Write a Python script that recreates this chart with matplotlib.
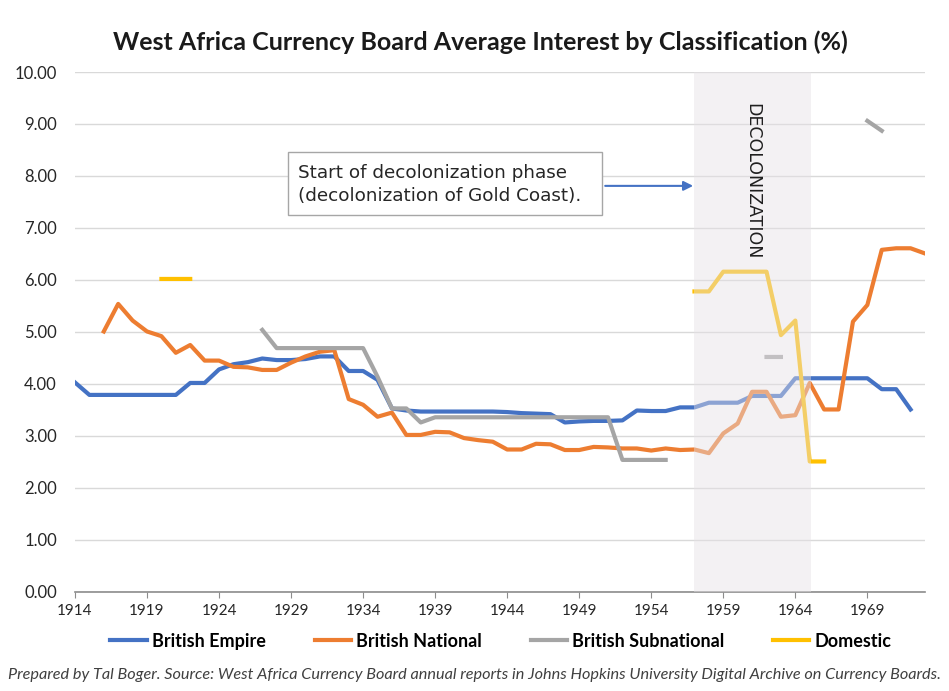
import numpy as np
import matplotlib
matplotlib.use("Agg")
import matplotlib.pyplot as plt
from matplotlib.patches import Rectangle

nan = np.nan

# yearly values 1914..1973
years = np.arange(1914, 1974)

british_empire = [
    4.03, 3.79, 3.79, 3.79, 3.79, 3.79, 3.79, 3.79, 4.02, 4.02,   # 1914-1923
    4.28, 4.38, 4.42, 4.49, 4.46, 4.46, 4.48, 4.53, 4.53, 4.25,   # 1924-1933
    4.25, 4.08, 3.53, 3.49, 3.47, 3.47, 3.47, 3.47, 3.47, 3.47,   # 1934-1943
    3.46, 3.44, 3.43, 3.42, 3.26, 3.28, 3.29, 3.29, 3.30, 3.49,   # 1944-1953
    3.48, 3.48, 3.55, 3.55, 3.64, 3.64, 3.64, 3.77, 3.77, 3.77,   # 1954-1963
    4.11, 4.11, 4.11, 4.11, 4.11, 4.11, 3.90, 3.90, 3.51, nan,    # 1964-1973
]

british_national = [
    nan, nan, 5.01, 5.54, 5.22, 5.01, 4.92, 4.60, 4.75, 4.45,
    4.45, 4.33, 4.32, 4.27, 4.27, 4.41, 4.53, 4.62, 4.65, 3.71,
    3.60, 3.37, 3.45, 3.02, 3.02, 3.08, 3.07, 2.96, 2.92, 2.89,
    2.74, 2.74, 2.85, 2.84, 2.73, 2.73, 2.79, 2.78, 2.76, 2.76,
    2.72, 2.76, 2.73, 2.74, 2.67, 3.05, 3.24, 3.85, 3.85, 3.37,
    3.40, 4.02, 3.51, 3.51, 5.20, 5.52, 6.58, 6.61, 6.61, 6.51,
]

british_subnational = [
    nan, nan, nan, nan, nan, nan, nan, nan, nan, nan,
    nan, nan, nan, 5.04, 4.69, 4.69, 4.69, 4.69, 4.69, 4.69,
    4.69, 4.14, 3.53, 3.53, 3.26, 3.36, 3.36, 3.36, 3.36, 3.36,
    3.36, 3.36, 3.36, 3.36, 3.36, 3.36, 3.36, 3.36, 2.54, 2.54,
    2.54, 2.54, nan, nan, nan, nan, nan, nan, 4.52, 4.52,
    nan, nan, nan, nan, nan, 9.06, 8.87, nan, nan, nan,
]

domestic = [
    nan, nan, nan, nan, nan, nan, 6.02, 6.02, 6.02, nan,
    nan, nan, nan, nan, nan, nan, nan, nan, nan, nan,
    nan, nan, nan, nan, nan, nan, nan, nan, nan, nan,
    nan, nan, nan, nan, nan, nan, nan, nan, nan, nan,
    nan, nan, nan, 5.78, 5.78, 6.16, 6.16, 6.16, 6.16, 4.94,
    5.22, 2.51, 2.51, nan, nan, nan, nan, nan, nan, nan,
]

series_names = ["British Empire", "British National", "British Subnational", "Domestic"]
series_colors = ["#4472C4", "#ED7D31", "#A5A5A5", "#FFC000"]
x_ticks = [1914, 1919, 1924, 1929, 1934, 1939, 1944, 1949, 1954, 1959, 1964, 1969]
decolonization = (1957, 1965.1)

plt.rcParams['font.family'] = ['Lato', 'DejaVu Sans']

fig = plt.figure(figsize=(9.49, 6.91), dpi=100)
ax = fig.add_axes([0.079, 0.1433, 0.8957, 0.7525])

for vals, name, col in zip([british_empire, british_national, british_subnational, domestic],
                           series_names, series_colors):
    ax.plot(years, np.array(vals, dtype=float), color=col, lw=3, label=name,
            solid_joinstyle='round', zorder=2)

# shaded decolonization period (sits over the lines, like the original)
ax.axvspan(*decolonization, color='#e6e1e6', alpha=0.45, lw=0, zorder=3)
ax.text(1961.0, 7.9, "DECOLONIZATION", rotation=-90, ha='center', va='center',
        fontsize=12.5, color='#1f1f1f', family='DejaVu Sans', zorder=4)

# annotation box + arrow
ax.add_patch(Rectangle((1928.77, 7.25), 21.84, 1.21, fc='white', ec='#a6a6a6', lw=1, zorder=5))
ax.text(1929.45, 7.83, "Start of decolonization phase\n(decolonization of Gold Coast).",
        ha='left', va='center', fontsize=13.2, family='DejaVu Sans', color='#262626',
        linespacing=1.35, zorder=6)
ax.annotate('', xy=(1957.1, 7.81), xytext=(1950.61, 7.81),
            arrowprops=dict(arrowstyle='-|>', color='#4472C4', lw=1.5, mutation_scale=14),
            zorder=6)

ax.set_xlim(1914, 1973)
ax.set_ylim(0, 10)
ax.set_yticks(np.arange(0, 11, 1))
ax.set_yticklabels([f"{v:.2f}" for v in range(11)])
ax.set_xticks(x_ticks)
ax.set_xticklabels([str(t) for t in x_ticks])
ax.grid(axis='y', color='#d9d9d9', lw=1, zorder=0)
ax.set_axisbelow(True)
for s in ['top', 'right', 'left']:
    ax.spines[s].set_visible(False)
ax.spines['bottom'].set_color('#8c8c8c')
ax.spines['bottom'].set_linewidth(1.2)
ax.tick_params(axis='y', length=0, labelsize=12, labelcolor='#262626', pad=13)
ax.tick_params(axis='x', length=4, color='#8c8c8c', labelsize=11, labelcolor='#262626', pad=5)

fig.text(0.506, 0.939, "West Africa Currency Board Average Interest by Classification (%)",
         ha='center', va='center', fontsize=18, fontweight='bold', color='#1a1a1a')

fig.legend(loc='center', bbox_to_anchor=(0.528, 0.072), ncol=4, frameon=False,
           prop={'weight': 'bold', 'size': 13}, handlelength=2.0, handletextpad=0.3,
           columnspacing=2.7)

fig.text(0.5, 0.023, "Prepared by Tal Boger. Source: West Africa Currency Board annual reports "
         "in Johns Hopkins University Digital Archive on Currency Boards.",
         ha='center', va='center', fontsize=11.7, style='italic', color='#404040')

fig.savefig("out.png", dpi=100)
